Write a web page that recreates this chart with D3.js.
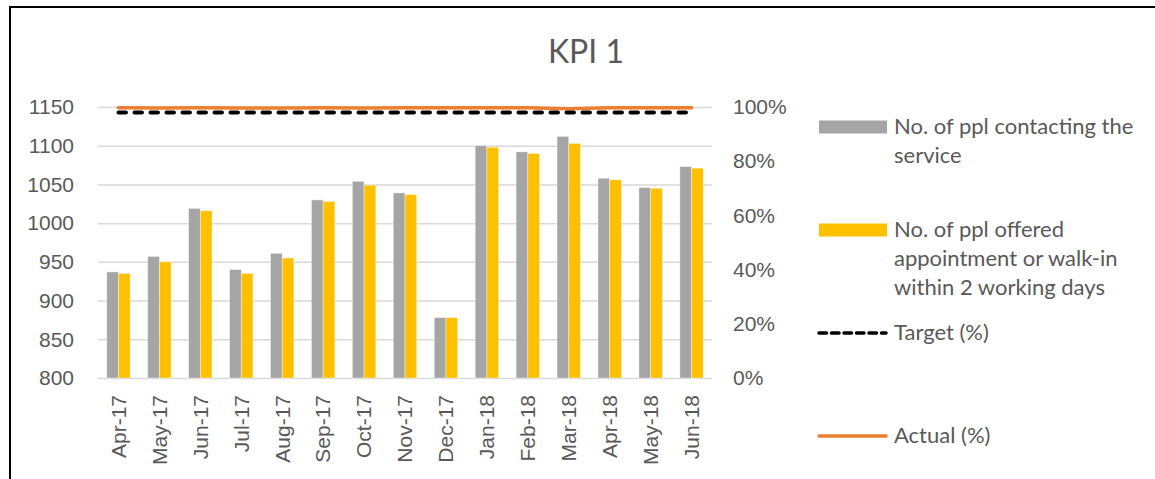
<!DOCTYPE html>
<html>
<head>
<meta charset="utf-8">
<script src="https://cdn.jsdelivr.net/npm/d3@7"></script>
<style>
  body { margin: 0; background: #fff; }
  svg { display: block; font-family: Lato, "Open Sans", sans-serif; }
  .tick text { fill: #595959; font-size: 21px; }
</style>
</head>
<body>
<svg id="chart" width="1155" height="479"></svg>
<script>
const months = ["Apr-17", "May-17", "Jun-17", "Jul-17", "Aug-17", "Sep-17", "Oct-17", "Nov-17",
  "Dec-17", "Jan-18", "Feb-18", "Mar-18", "Apr-18", "May-18", "Jun-18"];
const contacting = [937, 957, 1019, 940, 961, 1030, 1054, 1039, 878, 1100, 1092, 1112, 1058, 1046, 1073];
const offered = [935, 950, 1016, 935, 955, 1028, 1049, 1037, 878, 1098, 1090, 1103, 1056, 1045, 1071];
const target_pct = [0.98, 0.98, 0.98, 0.98, 0.98, 0.98, 0.98, 0.98, 0.98, 0.98, 0.98, 0.98, 0.98, 0.98, 0.98];
const actual_pct = [0.997, 0.996, 0.997, 0.996, 0.996, 0.997, 0.996, 0.997, 0.997, 0.997, 0.997, 0.994, 0.997, 0.997, 0.997];
const left_ticks = [800, 850, 900, 950, 1000, 1050, 1100, 1150];
const right_ticks = [0, 0.2, 0.4, 0.6, 0.8, 1];
const title = "KPI 1";
const legend_labels = [
  ["No. of ppl contacting the", "service"],
  ["No. of ppl offered", "appointment or walk-in", "within 2 working days"],
  ["Target (%)"],
  ["Actual (%)"],
];

const colors = { contacting: "#a5a5a5", offered: "#ffc000", target: "#000000", actual: "#ed7d31" };
const margin = { left: 98, right: 443, top: 107, bottom: 101 };
const width = 1155, height = 479;

const svg = d3.select("#chart");
svg.append("rect").attr("width", width).attr("height", height).attr("fill", "#fff");

// frame (only left and top edges visible in the crop)
svg.append("path")
  .attr("d", `M10,${height} V7 H${width}`)
  .attr("fill", "none")
  .attr("stroke", "#000")
  .attr("stroke-width", 2);

svg.append("text")
  .attr("x", 586)
  .attr("y", 63)
  .attr("text-anchor", "middle")
  .attr("fill", "#595959")
  .attr("font-size", 32)
  .text(title);

const plot_right = width - margin.right;
const plot_bottom = height - margin.bottom;

const x0 = d3.scaleBand()
  .domain(months)
  .range([margin.left, plot_right])
  .paddingInner(1.5 / 3.5)
  .paddingOuter(0.75 / 3.5);
const x1 = d3.scaleBand()
  .domain(["contacting", "offered"])
  .range([0, x0.bandwidth()]);
const y = d3.scaleLinear().domain([800, 1150]).range([plot_bottom, margin.top]);
const y_pct = d3.scaleLinear().domain([0, 1]).range([plot_bottom, margin.top]);

// left axis + gridlines
const left_axis = svg.append("g")
  .attr("transform", `translate(${margin.left},0)`)
  .call(d3.axisLeft(y).tickValues(left_ticks).tickFormat(d3.format("d"))
    .tickSize(-(plot_right - margin.left)).tickPadding(24));
left_axis.select(".domain").remove();
left_axis.selectAll(".tick line").attr("stroke", "#d9d9d9").attr("stroke-width", 1.5);

// right axis
const right_axis = svg.append("g")
  .attr("transform", `translate(${plot_right},0)`)
  .call(d3.axisRight(y_pct).tickValues(right_ticks).tickSize(0).tickPadding(21).tickFormat(d3.format(".0%")));
right_axis.select(".domain").remove();

// bottom axis
const bottom_axis = svg.append("g")
  .attr("transform", `translate(0,${plot_bottom})`)
  .call(d3.axisBottom(x0).tickSize(0));
bottom_axis.select(".domain").remove();
bottom_axis.selectAll(".tick text")
  .attr("transform", "rotate(-90)")
  .attr("text-anchor", "end")
  .attr("font-size", 21.5)
  .attr("x", -17)
  .attr("y", 0)
  .attr("dy", "0.35em");

// bars
const rows = months.map((m, i) => ({ month: m, contacting: contacting[i], offered: offered[i] }));
svg.append("g")
  .selectAll("g")
  .data(rows)
  .join("g")
  .attr("transform", (d) => `translate(${x0(d.month)},0)`)
  .selectAll("rect")
  .data((d) => ["contacting", "offered"].map((k) => ({ key: k, value: d[k] })))
  .join("rect")
  .attr("x", (d) => x1(d.key))
  .attr("width", x1.bandwidth())
  .attr("y", (d) => y(d.value))
  .attr("height", (d) => y(800) - y(d.value))
  .attr("fill", (d) => colors[d.key])
  .attr("stroke", "#fff")
  .attr("stroke-opacity", 0.5)
  .attr("stroke-width", 0.75);

// lines
const line = d3.line()
  .x((d, i) => x0(months[i]) + x0.bandwidth() / 2)
  .y((d) => y_pct(d));

svg.append("path")
  .datum(actual_pct)
  .attr("fill", "none")
  .attr("stroke", colors.actual)
  .attr("stroke-width", 3.5)
  .attr("stroke-linecap", "round")
  .attr("d", line);

svg.append("path")
  .datum(target_pct)
  .attr("fill", "none")
  .attr("stroke", colors.target)
  .attr("stroke-width", 4)
  .attr("stroke-linecap", "round")
  .attr("stroke-dasharray", "7.5,8.5")
  .attr("d", line);

// legend
const legend_y = [134, 237, 340, 443];
const legend = svg.append("g").attr("fill", "#595959").attr("font-size", 22);
legend_labels.forEach((lines, i) => {
  const by = legend_y[i];
  if (i < 2) {
    legend.append("rect")
      .attr("x", 819).attr("y", by - 13.5)
      .attr("width", 68).attr("height", 13)
      .attr("fill", i === 0 ? colors.contacting : colors.offered);
  } else {
    legend.append("line")
      .attr("x1", 819).attr("x2", 886)
      .attr("y1", by - 7).attr("y2", by - 7)
      .attr("stroke", i === 2 ? colors.target : colors.actual)
      .attr("stroke-width", 3.5)
      .attr("stroke-linecap", "round")
      .attr("stroke-dasharray", i === 2 ? "7.5,5" : null);
  }
  const t = legend.append("text").attr("x", 894).attr("y", by);
  lines.forEach((s, j) => {
    t.append("tspan").attr("x", 894).attr("y", by + j * 29).text(s);
  });
});
</script>
</body>
</html>
